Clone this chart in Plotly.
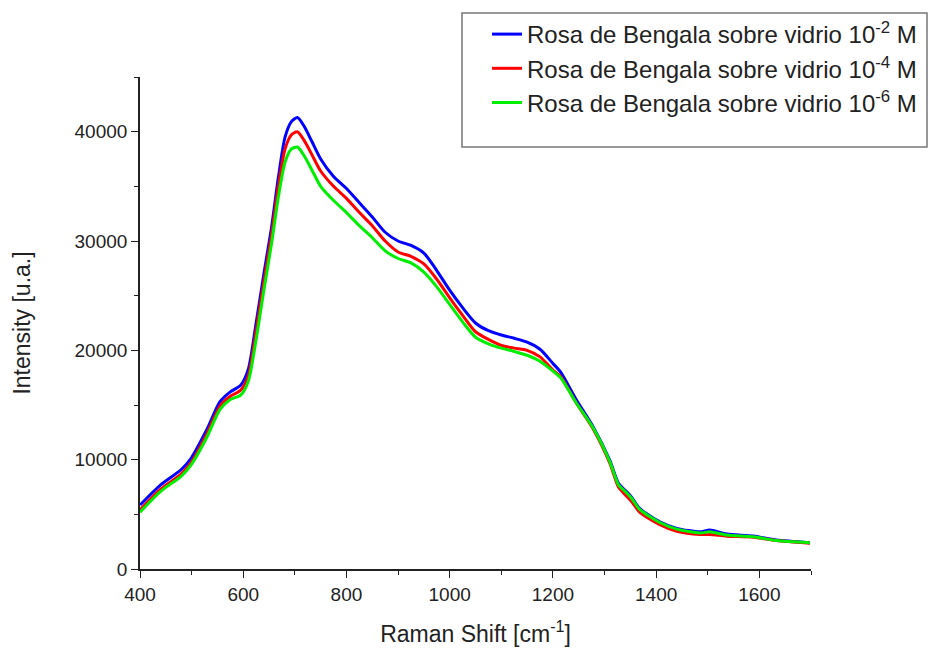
import plotly.graph_objects as go

raman_shift = [400, 440, 480, 500, 530, 555, 575, 595, 610, 625,
               640, 655, 668, 681, 693, 705, 718, 733, 750, 775,
               800, 825, 850, 875, 900, 925, 950, 975, 1000, 1025,
               1050, 1075, 1100, 1125, 1150, 1175, 1200, 1215, 1245, 1278,
               1310, 1327, 1340, 1352, 1368, 1407, 1440, 1485, 1504, 1537,
               1588, 1633, 1698]

intensity_1e2 = [5850, 7700, 9100, 10200, 12800, 15300, 16200, 16800, 18300, 22500,
                 27000, 31300, 35800, 39500, 40900, 41300, 40500, 39100, 37500, 35900,
                 34800, 33500, 32200, 30800, 30000, 29600, 28900, 27300, 25500, 23900,
                 22500, 21800, 21400, 21100, 20750, 20100, 18800, 18000, 15500, 13000,
                 9950, 7830, 7200, 6600, 5540, 4320, 3720, 3400, 3560, 3200,
                 3010, 2650, 2400]

intensity_1e4 = [5400, 7300, 8700, 9800, 12400, 14900, 15800, 16350, 17700, 21800,
                 26300, 30600, 35000, 38400, 39700, 40000, 39200, 37900, 36400, 35000,
                 33900, 32600, 31400, 30000, 29000, 28600, 27900, 26500, 24800, 23200,
                 21700, 21000, 20450, 20200, 20000, 19400, 18200, 17600, 15200, 12800,
                 9700, 7500, 6800, 6200, 5200, 4050, 3450, 3150, 3150, 3000,
                 2900, 2600, 2350]

intensity_1e6 = [5200, 7100, 8500, 9600, 12100, 14600, 15500, 15900, 17200, 21000,
                 25500, 29800, 34000, 37200, 38400, 38600, 37800, 36500, 35000, 33700,
                 32600, 31400, 30300, 29100, 28400, 28000, 27150, 25800, 24200, 22600,
                 21200, 20600, 20200, 19900, 19550, 19000, 18100, 17500, 15200, 12900,
                 9850, 7700, 7100, 6500, 5450, 4250, 3650, 3300, 3400, 3100,
                 2950, 2600, 2400]

series_names = ["Rosa de Bengala sobre vidrio 10<sup>-2</sup> M",
                "Rosa de Bengala sobre vidrio 10<sup>-4</sup> M",
                "Rosa de Bengala sobre vidrio 10<sup>-6</sup> M"]
series_colors = ["#0000FF", "#FF0000", "#00EE00"]
series_values = [intensity_1e2, intensity_1e4, intensity_1e6]

x_ticks = [400, 600, 800, 1000, 1200, 1400, 1600]
y_ticks = [0, 10000, 20000, 30000, 40000]

FONT = "Liberation Sans, Arial, sans-serif"

fig = go.Figure()
for name, color, vals in zip(series_names, series_colors, series_values):
    fig.add_trace(go.Scatter(x=raman_shift, y=vals, mode="lines", name=name,
                             line=dict(color=color, width=3, shape="spline", smoothing=0.7)))

axis_common = dict(showline=True, linecolor="#222222", linewidth=1.6, ticks="outside",
                   tickcolor="#222222", tickwidth=1.4, ticklen=7, showgrid=False,
                   zeroline=False, tickfont=dict(family=FONT, size=19, color="#222222"),
                   mirror=False)

fig.update_xaxes(range=[400, 1700], tickvals=x_ticks, tickformat="d",
                 minor=dict(dtick=100, tick0=400, ticks="outside", ticklen=4, tickcolor="#222222", tickwidth=1.2),
                 title=dict(text="Raman Shift [cm<sup>-1</sup>]", font=dict(family=FONT, size=23, color="#222222"), standoff=22),
                 **axis_common)
fig.update_yaxes(range=[0, 45000], tickvals=y_ticks, tickformat="d",
                 minor=dict(dtick=5000, tick0=0, ticks="outside", ticklen=4, tickcolor="#222222", tickwidth=1.2),
                 title=dict(text="Intensity [u.a.]", font=dict(family=FONT, size=23, color="#222222"), standoff=38),
                 **axis_common)

fig.add_shape(type="rect", xref="paper", yref="paper",
              x0=(462 - 140) / 671, x1=(927 - 140) / 671,
              y0=(569 - 147) / 492, y1=(569 - 13) / 492,
              line=dict(color="#777777", width=1.5), fillcolor="rgba(0,0,0,0)")

fig.update_layout(
    width=929, height=652,
    margin=dict(l=140, r=118, t=77, b=83, autoexpand=False),
    paper_bgcolor="white", plot_bgcolor="white",
    font=dict(family=FONT, color="#222222"),
    showlegend=True,
    legend=dict(x=(487 - 140) / 671, y=(569 - 12) / 492, xanchor="left", yanchor="top",
                bgcolor="rgba(0,0,0,0)", borderwidth=0,
                font=dict(family=FONT, size=24, color="#222222"),
                tracegroupgap=0),
)

fig.write_html("out.html")
